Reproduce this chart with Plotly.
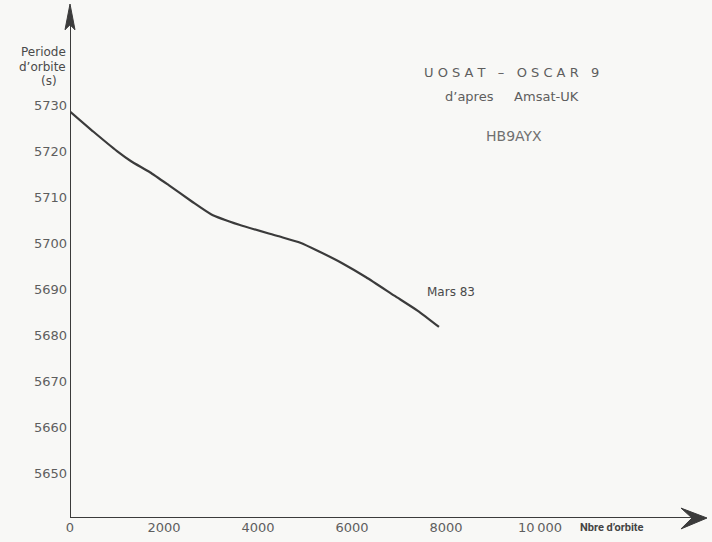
import plotly.graph_objects as go

# Orbit count vs. orbital period of UoSAT-OSCAR 9
orbits = [0, 500, 1000, 1300, 1700, 2100, 2600, 3000, 3600, 4400, 4900, 5300, 5800, 6300, 6900, 7400, 7850]
period_s = [5728.6, 5724.2, 5720.0, 5717.8, 5715.4, 5712.6, 5709.0, 5706.3, 5704.0, 5701.6,
            5700.1, 5698.2, 5695.6, 5692.6, 5688.6, 5685.3, 5681.8]

x_ticks = [0, 2000, 4000, 6000, 8000, 10000]
x_tick_text = ["0", "2000", "4000", "6000", "8000", "10\u2009000"]
y_ticks = [5650, 5660, 5670, 5680, 5690, 5700, 5710, 5720, 5730]

X_MIN, X_MAX = 0, 13510
Y_MIN, Y_MAX = 5640.3, 5751.3

INK = "#3b3b3b"
TEXT = "#5e5e5e"
FONT = "DejaVu Sans"

W, H = 712, 542
L, R, T, B = 70, 7, 7, 19


def px(xp, yp):
    """Pixel position -> paper coordinates of the plotting area."""
    return (xp - L) / (W - L - R), (H - B - yp) / (H - T - B)


fig = go.Figure()
fig.add_trace(go.Scatter(
    x=orbits, y=period_s, mode="lines",
    line=dict(color=INK, width=2.2, shape="spline", smoothing=0.5),
    hoverinfo="skip", showlegend=False,
))

# axis lines (origin -> arrow tips)
shapes = [
    dict(type="line", xref="x", yref="y", x0=X_MIN, y0=Y_MIN, x1=X_MAX - 300, y1=Y_MIN,
         line=dict(color=INK, width=2)),
    dict(type="line", xref="x", yref="y", x0=X_MIN, y0=Y_MIN, x1=X_MIN, y1=Y_MAX - 1,
         line=dict(color=INK, width=2)),
]


def arrow_path(points):
    coords = [px(a, b) for a, b in points]
    return "M " + " L ".join(f"{x:.5f},{y:.5f}" for x, y in coords) + " Z"


# narrow filled head on the vertical axis
shapes.append(dict(type="path", xref="paper", yref="paper",
                   path=arrow_path([(70, 4), (75, 30), (70, 25), (65, 30)]),
                   fillcolor=INK, line=dict(color=INK, width=1)))
# swept head on the horizontal axis
shapes.append(dict(type="path", xref="paper", yref="paper",
                   path=arrow_path([(707, 523), (681, 513), (692, 523), (681, 534)]),
                   fillcolor=INK, line=dict(color=INK, width=1)))

annotations = []


def label(text, xp, yp, size=12, anchor="center", color=TEXT, bold=False, family=FONT):
    x, y = px(xp, yp)
    annotations.append(dict(
        text=f"<b>{text}</b>" if bold else text, x=x, y=y, xref="paper", yref="paper",
        xanchor=anchor, yanchor="middle", showarrow=False,
        font=dict(family=family, size=size, color=color),
    ))


label("Periode", 68, 52, 12, "right", "#4a4a4a")
label("d\u2019orbite", 68, 68, 12, "right", "#4a4a4a")
label("(s)", 49, 82, 12, "center", "#4a4a4a")
label("U O S A T   \u2013   O S C A R   9", 511, 73, 13, "center")
label("d\u2019apres     Amsat-UK", 512, 97, 13, "center")
label("HB9AYX", 514, 137, 14, "center", "#707070")
label("Mars 83", 451, 295, 12, "center", "#4a4a4a")
label("Nbre d\u2019orbite", 612, 533, 11, "center", "#444", bold=True, family="Roboto")

fig.update_layout(
    width=W, height=H,
    margin=dict(l=L, r=R, t=T, b=B, pad=0),
    paper_bgcolor="#f8f8f6", plot_bgcolor="#f8f8f6",
    annotations=annotations, shapes=shapes,
    xaxis=dict(range=[X_MIN, X_MAX], tickvals=x_ticks, ticktext=x_tick_text,
               showgrid=False, zeroline=False, showline=False, ticks="",
               tickfont=dict(family=FONT, size=13, color=TEXT), fixedrange=True),
    yaxis=dict(range=[Y_MIN, Y_MAX], tickvals=y_ticks, showgrid=False, zeroline=False,
               showline=False, ticks="", ticklabelstandoff=2,
               tickfont=dict(family=FONT, size=13, color=TEXT), fixedrange=True),
)

fig.write_html("out.html")
